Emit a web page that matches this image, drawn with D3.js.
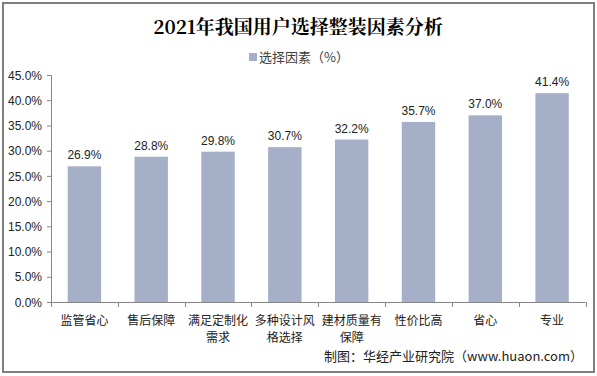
<!DOCTYPE html>
<html><head><meta charset="utf-8">
<script src="https://cdn.jsdelivr.net/npm/d3@7"></script>
<style>body{margin:0;background:#fff}svg{display:block}</style>
</head><body>
<svg id="c" width="597" height="376"></svg>
<script>
const categories = ["监管省心","售后保障","满足定制化需求","多种设计风格选择","建材质量有保障","性价比高","省心","专业"];
const values = [26.9, 28.8, 29.8, 30.7, 32.2, 35.7, 37.0, 41.4];
const yTicks = [0,5,10,15,20,25,30,35,40,45];
const title = "2021年我国用户选择整装因素分析";
const seriesName = "选择因素（%）";
const source = "制图：华经产业研究院（www.huaon.com）";

const svg = d3.select("#c");
const W = 597, H = 376;
const barColor = "#A5B0C8";
const sans = "'Liberation Sans', Arial, 'Noto Sans CJK SC', sans-serif";
const cjk = "'Noto Sans CJK SC', 'Liberation Sans', sans-serif";

svg.append("rect").attr("x",0).attr("y",0).attr("width",W).attr("height",H).attr("fill","#fff");
svg.append("rect").attr("x",3).attr("y",3).attr("width",591).attr("height",369)
  .attr("fill","none").attr("stroke","#7f7f7f").attr("stroke-width",2);

svg.append("text").attr("x",298).attr("y",34).attr("text-anchor","middle")
  .attr("font-family","'Noto Serif CJK SC','DejaVu Serif','Liberation Serif',serif")
  .attr("font-weight","bold").attr("font-size",19).attr("fill","#000").text(title);

// legend
svg.append("rect").attr("x",249).attr("y",53).attr("width",8).attr("height",8).attr("fill",barColor);
svg.append("text").attr("x",259).attr("y",62).attr("font-family",cjk).attr("font-size",13)
  .attr("fill","#404040").text(seriesName);

const x = d3.scaleBand().domain(categories).range([51,585.5]).paddingInner(0.5).paddingOuter(0.25);
const y = d3.scaleLinear().domain([0,45]).range([302,75]);

// bars
svg.selectAll("rect.bar").data(values).enter().append("rect").attr("class","bar")
  .attr("x",(d,i)=>x(categories[i])).attr("width",x.bandwidth())
  .attr("y",d=>y(d)).attr("height",d=>y(0)-y(d)).attr("fill",barColor);

// value labels
svg.selectAll("text.val").data(values).enter().append("text").attr("class","val")
  .attr("x",(d,i)=>x(categories[i])+x.bandwidth()/2).attr("y",d=>y(d)-7)
  .attr("text-anchor","middle").attr("font-family",sans).attr("font-size",12).attr("fill","#222")
  .text(d=>d.toFixed(1)+"%");

// y axis
const yAxis = d3.axisLeft(y).tickValues(yTicks).tickSize(4).tickFormat(d=>d.toFixed(1)+"%");
const gy = svg.append("g").attr("transform","translate(51,0)").call(yAxis);
gy.select(".domain").attr("stroke","#868686");
gy.selectAll(".tick line").attr("stroke","#868686");
gy.selectAll(".tick text").attr("font-family",sans).attr("font-size",12).attr("fill","#222").attr("x",-9).attr("dy","0.35em");

// x axis
const gx = svg.append("g").attr("transform","translate(0,302)");
gx.append("line").attr("x1",51).attr("x2",585.5).attr("y1",0.5).attr("y2",0.5).attr("stroke","#868686");
const step = x.step();
const bounds = d3.range(categories.length+1).map(i=>51+i*step);
gx.selectAll("line.tk").data(bounds).enter().append("line").attr("class","tk")
  .attr("x1",d=>Math.round(d)+0.5).attr("x2",d=>Math.round(d)+0.5).attr("y1",0).attr("y2",5).attr("stroke","#868686");

categories.forEach((c,i)=>{
  const lines = [];
  for(let k=0;k<c.length;k+=5) lines.push(c.slice(k,k+5));
  const t = svg.append("text").attr("text-anchor","middle").attr("font-family",cjk)
    .attr("font-size",12).attr("fill","#222");
  lines.forEach((l,j)=>{
    t.append("tspan").attr("x",x(c)+x.bandwidth()/2).attr("y",325+j*17).text(l);
  });
});

svg.append("text").attr("x",583).attr("y",361).attr("text-anchor","end").attr("font-family",cjk)
  .attr("font-size",13).attr("fill","#222").text(source);
</script>
</body></html>
